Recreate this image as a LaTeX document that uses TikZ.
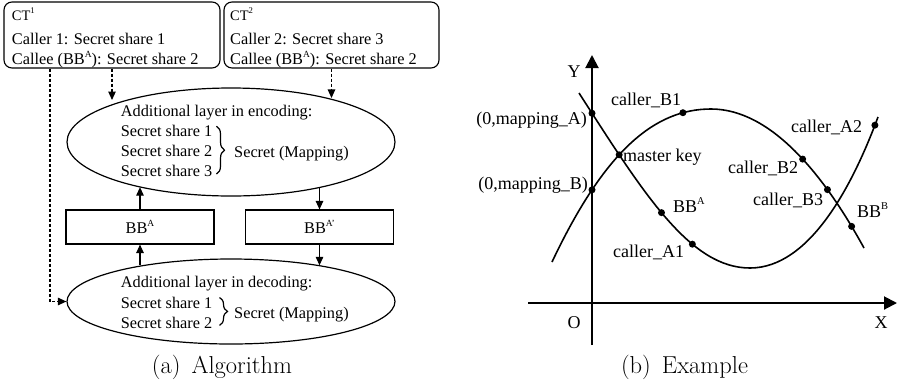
\documentclass[tikz,border=0pt]{standalone}
\usepackage{fontspec}
\usepackage{graphicx}
\usetikzlibrary{arrows.meta,shapes.geometric,decorations.pathreplacing,intersections}
\newfontfamily\tnr{Liberation Serif}
% small raised index, as in BB^A
\newcommand\supx[1]{\raisebox{0.42em}{\scalebox{0.58}{#1}}}
\begin{document}
\begin{tikzpicture}[x=1pt,y=-1pt,
  txt/.style={font=\tnr\fontsize{16.3}{20}\selectfont,inner sep=0pt},
  cttxt/.style={font=\tnr\fontsize{14.5}{16}\selectfont,inner sep=0pt},
  lab/.style={font=\tnr\fontsize{18}{20}\selectfont,inner sep=0pt},
  capt/.style={font=\fontsize{24.5}{28}\selectfont,inner sep=0pt},
  ctbox/.style={draw,rounded corners=8pt,line width=1.1pt,minimum width=#1,minimum height=66pt,inner sep=0pt},
  bbbox/.style={draw,line width=1.1pt,minimum width=148pt,minimum height=34pt,inner sep=0pt,txt},
  ell/.style={draw,ellipse,line width=1.2pt,inner sep=0pt,minimum width=328pt},
  arr/.style={-{Triangle[length=8.5pt,width=7.5pt]},line width=1.1pt},
  darr/.style={arr,dash pattern=on 3pt off 2pt},
  brc/.style={decorate,decoration={brace,amplitude=#1},line width=1.2pt},
  axis/.style={line width=2pt,-{Triangle[length=13pt,width=13pt]}},
  curve/.style={line width=1.6pt},
  dot/.style={fill=black}
]
\useasboundingbox (0,0) rectangle (898,384);

% ---------------- (a) Algorithm ----------------
\node[ctbox=216pt] (ct1) at (112,35) {};
\node[ctbox=215pt] (ct2) at (331.5,35) {};

\node[cttxt,anchor=base west] (ct1a) at (11.7,20.5) {CT\raisebox{0.5em}{\scalebox{0.6}{1}}};
\node[txt,anchor=base west] (ct1b) at (11.7,44) {Caller 1: Secret share 1};
\node[txt,anchor=base west] (ct1c) at (11.7,64.5) {Callee (BB\supx{A}): Secret share 2};

\node[cttxt,anchor=base west] (ct2a) at (230,20.5) {CT\raisebox{0.5em}{\scalebox{0.6}{2}}};
\node[txt,anchor=base west] (ct2b) at (230,44) {Caller 2: Secret share 3};
\node[txt,anchor=base west] (ct2c) at (230,64.5) {Callee (BB\supx{A}): Secret share 2};

% encoding layer
\node[ell,minimum height=108pt] (enc) at (231,142) {};
\node[txt,anchor=base west] (e0) at (120.7,116) {Additional layer in encoding:};
\node[txt,anchor=base west] (e1) at (120.7,136.7) {Secret share 1};
\node[txt,anchor=base west] (e2) at (120.7,156.7) {Secret share 2};
\node[txt,anchor=base west] (e3) at (120.7,176.7) {Secret share 3};
\draw[brc=8pt] ([xshift=4pt,yshift=-1pt]e1.north east) -- ([xshift=4pt,yshift=3pt]e3.south east);
\node[txt,anchor=base west] (es) at (234,157) {Secret (Mapping)};

% decoding layer
\node[ell,minimum height=85pt] (dec) at (231,301.5) {};
\node[txt,anchor=base west] (d0) at (120.7,287) {Additional layer in decoding:};
\node[txt,anchor=base west] (d1) at (120.7,308) {Secret share 1};
\node[txt,anchor=base west] (d2) at (120.7,328) {Secret share 2};
\draw[brc=8pt] ([xshift=7pt,yshift=-1pt]d1.north east) -- ([xshift=7pt,yshift=3pt]d2.south east);
\node[txt,anchor=base west] (ds) at (234,318) {Secret (Mapping)};

% black boxes
\node[bbbox] (bbA) at (140,227) {BB\supx{A}};
\node[bbbox] (bbB) at (319.5,227) {BB\supx{A’}};

\draw[arr] (bbA.north) -- (bbA.north |- enc.206);
\draw[arr] (bbA.south |- dec.158) -- (bbA.south);
\draw[arr] (bbB.north |- enc.333) -- (bbB.north);
\draw[arr] (bbB.south) -- (bbB.south |- dec.22);

% ciphertext inputs
\coordinate (lx) at (50,0);
\draw[darr,shorten >=5pt] (ct1.south) -- (ct1.south |- enc.163);
\draw[darr,shorten >=1pt] (ct2.south) -- (ct2.south |- enc.23);
\draw[darr] (ct1.south -| lx) |- (dec.west);

\node[capt,anchor=base] (capa) at (222,373) {(a)\hspace{0.45em}Algorithm};

% ---------------- (b) Example ----------------
\coordinate (yb) at (592,345);
\coordinate (yt) at (592,55);
\coordinate (xl) at (528,303);
\coordinate (xr) at (897,303);
\draw[axis] (yb) -- (yt);
\draw[axis] (xl) -- (xr);
\path[name path=yax] (yb) -- (yt);
\node[lab,anchor=base] (ylab) at (574,77) {Y};
\node[lab,anchor=base] (olab) at (574,328) {O};
\node[lab,anchor=base] (xlab) at (881,328) {X};

% cubic-like curve (A points)
\draw[curve,name path=ca]
  (579,93) .. controls (644,194) and (690,268) .. (750,268)
    coordinate[pos=0.47] (pBA) coordinate[pos=0.66] (pA1)
  .. controls (810,268) and (853,184.5) .. (878,117)
    coordinate[pos=0.96] (pA2);
% arch-like curve (B points)
\draw[curve,name path=cb]
  (552,262) .. controls (605,150) and (655,109) .. (711,109)
    coordinate[pos=0.83] (pB1)
  .. controls (771,109) and (824,175) .. (864,248)
    coordinate[pos=0.55] (pB2) coordinate[pos=0.72] (pB3) coordinate[pos=0.9] (pBB);

\path[name intersections={of=ca and yax,by=pmA}];
\path[name intersections={of=cb and yax,by=pmB}];
\path[name intersections={of=ca and cb,sort by=ca,by={pmk}}];

\foreach \p in {pmA,pmB,pmk,pB1,pB2,pB3,pBB,pBA,pA1,pA2}
  \fill[dot] (\p) circle[radius=3.5pt];

\node[lab,anchor=base east] (lmA) at (587,124) {(0,mapping\_A)};
\node[lab,anchor=base east] (lmB) at (588,189) {(0,mapping\_B)};
\node[lab,anchor=base west] (lB1) at (611,105) {caller\_B1};
\node[lab,anchor=base west] (lmk) at (623,161) {master key};
\node[lab,anchor=base west] (lA2) at (791,132) {caller\_A2};
\node[lab,anchor=base west] (lB2) at (728,173) {caller\_B2};
\node[lab,anchor=base west] (lB3) at (753,205) {caller\_B3};
\node[lab,anchor=base west] (lBA) at (673,212) {BB\supx{A}};
\node[lab,anchor=base west] (lBB) at (857,217.5) {BB\supx{B}};
\node[lab,anchor=base west] (lA1) at (613,257) {caller\_A1};

\node[capt,anchor=base] (capb) at (684.5,373) {(b)\hspace{0.45em}Example};
\end{tikzpicture}
\end{document}
